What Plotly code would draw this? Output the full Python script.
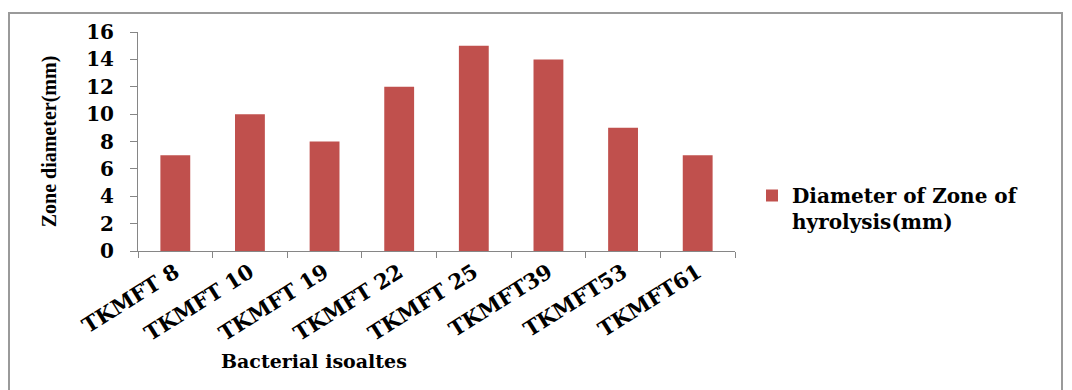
import plotly.graph_objects as go

categories = ["TKMFT 8", "TKMFT 10", "TKMFT 19", "TKMFT 22", "TKMFT 25", "TKMFT39", "TKMFT53", "TKMFT61"]
values = [7, 10, 8, 12, 15, 14, 9, 7]
series_name = "Diameter of Zone of<br>hyrolysis(mm)"
y_ticks = [0, 2, 4, 6, 8, 10, 12, 14, 16]

WIDE = "DejaVu Serif"
SERIF = "Liberation Serif"
BAR = "#C0504D"
AXIS = "#868686"

fig = go.Figure()
fig.add_trace(go.Bar(
    x=categories, y=values, name=series_name,
    marker=dict(color=BAR, line=dict(width=0)),
    width=0.4, showlegend=True,
))

L, R, T, B = 138, 337, 32, 139
W, H = 1072, 390
pw, ph = W - L - R, H - T - B

def px_x(p):
    return (p - L) / pw

def px_y(p):
    return (H - B - p) / ph

fig.update_layout(
    width=W, height=H,
    margin=dict(l=L, r=R, t=T, b=B),
    paper_bgcolor="white", plot_bgcolor="white",
    font=dict(family=WIDE, color="black"),
    xaxis=dict(
        type="category", tickangle=-32,
        tickfont=dict(family=WIDE, size=21, color="black", weight="bold"),
        showline=True, linecolor=AXIS, linewidth=1,
        ticks="outside", tickson="boundaries", ticklen=6, tickcolor=AXIS,
        showgrid=False, zeroline=False,
    ),
    yaxis=dict(
        range=[0, 16], tickvals=y_ticks,
        tickfont=dict(family=WIDE, size=20, color="black", weight="bold"),
        showline=True, linecolor=AXIS, linewidth=1,
        ticks="outside", ticklen=7, tickcolor=AXIS, ticklabelstandoff=12,
        showgrid=False, zeroline=False,
        title=dict(text="Zone diameter(mm)", font=dict(family=SERIF, size=20, color="black", weight="bold"), standoff=24),
    ),
    legend=dict(
        x=px_x(752), y=px_y(176), xanchor="left", yanchor="top",
        font=dict(family=WIDE, size=20, color="black", weight="bold"),
        bgcolor="rgba(0,0,0,0)", itemwidth=30, valign="top",
    ),
    annotations=[dict(
        text="<b>Bacterial isoaltes</b>", xref="paper", yref="paper",
        x=px_x(314), y=px_y(361), xanchor="center", yanchor="middle",
        showarrow=False, font=dict(family=WIDE, size=19, color="black"),
    )],
    shapes=[dict(
        type="rect", xref="paper", yref="paper",
        x0=px_x(9), x1=px_x(1062), y0=px_y(400), y1=px_y(13),
        line=dict(color="#9a9a9a", width=2), fillcolor="rgba(0,0,0,0)", layer="below",
    )],
)

fig.write_html("out.html")
